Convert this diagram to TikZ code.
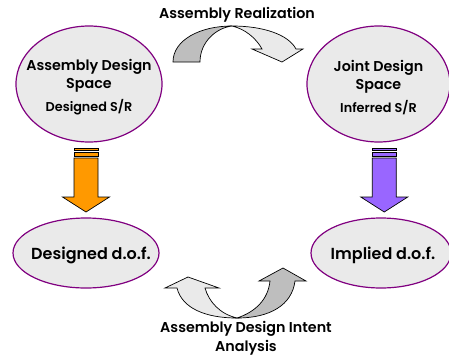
\documentclass[tikz,border=0pt]{standalone}
\usepackage{fontspec}
\setmainfont{Poppins}[BoldFont={* SemiBold}]
\usetikzlibrary{shapes.geometric,calc}

\definecolor{ringpurple}{HTML}{800080}
\definecolor{cellgray}{HTML}{EAEAEA}
\definecolor{bandgray}{HTML}{BEBEBE}
\definecolor{floworange}{HTML}{FF9900}
\definecolor{flowviolet}{HTML}{9966FF}

\begin{document}
\begin{tikzpicture}[x=1pt,y=-1pt,
  space/.style={ellipse, draw=ringpurple, line width=1.2pt, fill=cellgray, inner sep=0pt},
  spacetext/.style={align=center, inner sep=0pt, font=\fontsize{14.3}{18}\selectfont\bfseries},
  doftext/.style={inner sep=0pt, font=\fontsize{16}{18}\selectfont\bfseries},
  caption/.style={align=center, font=\fontsize{14.3}{19}\selectfont\bfseries},
  outline/.style={draw=black, line width=0.7pt, line join=miter},
  blockfill/.initial=floworange,
  blockarrow/.pic={
    \draw[outline, fill=\pgfkeysvalueof{/tikz/blockfill}] (-12,-32) rectangle (12,-30);
    \draw[outline, fill=\pgfkeysvalueof{/tikz/blockfill}] (-12,-28) rectangle (12,-24);
    \draw[outline, fill=\pgfkeysvalueof{/tikz/blockfill}]
      (-12,-22) -- (12,-22) -- (12,17) -- (23.5,17) -- (0,32) -- (-23.5,17) -- (-12,17) -- cycle;
  }
]
\useasboundingbox (0,0) rectangle (449,356);

% the four spaces
\node[space, minimum width=146pt, minimum height=116pt] (tl) at (89,84) {};
\node[space, minimum width=143pt, minimum height=116pt] (tr) at (378.5,84) {};
\node[space, minimum width=146pt, minimum height=70pt] (bl) at (86,253) {};
\node[space, minimum width=140pt, minimum height=70pt] (br) at (381,253) {};

% their texts
\node[spacetext] (tlt) at ([yshift=-3.5pt]tl.center)
  {Assembly Design\\Space\\[5pt]{\fontsize{12.8}{15}\selectfont\bfseries Designed S/R}};
\node[spacetext] (trt) at ([yshift=-3.5pt]tr.center)
  {Joint Design\\Space\\[5pt]{\fontsize{12.8}{15}\selectfont\bfseries Inferred S/R}};
\node[doftext, anchor=base] (blt) at ([xshift=5pt,yshift=-6pt]bl.center) {Designed d.o.f.};
\node[doftext, anchor=base] (brt) at ([xshift=2pt,yshift=-6pt]br.center) {Implied d.o.f.};

% vertical block arrows between upper and lower spaces
\pic[blockfill=floworange] at ($(tl.south)!.5!(bl.north)+(-1.5,0)$) {blockarrow};
\pic[blockfill=flowviolet] at ($(tr.south)!.5!(br.north)+(4.5,0)$) {blockarrow};

% captions
\node[caption] (top) at (237,15) {Assembly Realization};
\node[caption] (bot) at (246,338) {Assembly Design Intent\\Analysis};

% curved arrow: Assembly Realization
\draw[outline, fill=bandgray]
  (173,62) .. controls (173,40) and (200,26) .. (232,26)
  .. controls (216,28) and (200,42) .. (200,62) -- cycle;
\draw[outline, fill=cellgray]
  (232,26) .. controls (262,26) and (288,34) .. (296,49)
  -- (303,49) -- (282,62) -- (252,49) -- (262,49)
  .. controls (256,38) and (245,29) .. (232,26) -- cycle;

% curved arrow: Assembly Design Intent Analysis
\draw[outline, fill=cellgray]
  (237,318) .. controls (205,318) and (182,308) .. (177,288)
  -- (165,288) -- (188,277) -- (219,288) -- (205,288)
  .. controls (209,302) and (220,314) .. (237,318) -- cycle;
\draw[outline, fill=bandgray]
  (237,318) .. controls (270,318) and (292,305) .. (295,281)
  -- (306,281) -- (283,268) -- (259,281) -- (270,281)
  .. controls (268,300) and (255,312) .. (237,318) -- cycle;
\end{tikzpicture}
\end{document}
